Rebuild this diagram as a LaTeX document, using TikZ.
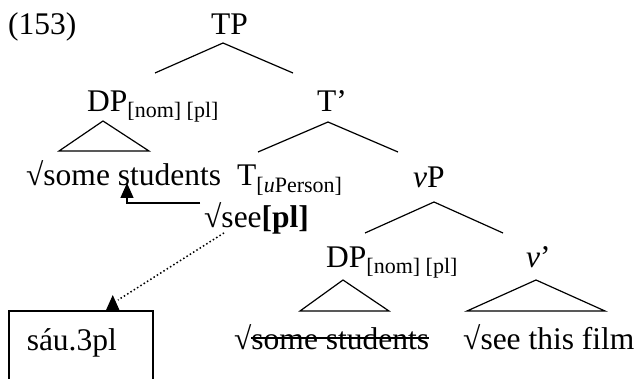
\documentclass[tikz,border=0pt]{standalone}
\usepackage{fontspec}
\setmainfont{Liberation Serif}
\usetikzlibrary{arrows.meta}
\newcommand{\treefont}{\fontsize{31.5pt}{38pt}\selectfont}
\newcommand{\feat}[1]{\raisebox{-6pt}{\fontsize{22pt}{26pt}\selectfont #1}}
\newsavebox{\strkbox}
\newcommand{\strk}[1]{\sbox{\strkbox}{#1}\rlap{\rule[0.32em]{\wd\strkbox}{0.05em}}\usebox{\strkbox}}
\tikzset{
    lbl/.style={anchor=base west,inner sep=0pt,font=\treefont},
    branch/.style={line width=1.2pt},
    agree/.style={-{Triangle[length=15pt,width=13pt]},line width=1.4pt},
    spell/.style={line width=1.5pt,dash pattern=on 1.5pt off 2.4pt},
    vocab/.style={draw,line width=1.5pt,anchor=north west,align=left,
        font=\treefont,inner ysep=0pt}
}
\begin{document}
\begin{tikzpicture}[x=1pt,y=-1pt]
\useasboundingbox (0,0) rectangle (639,379);
\clip (0,0) rectangle (639,379);

% tree labels
\node[lbl] (ex) at (8,35) {(153)};
\node[lbl] (TP) at (211,35) {TP};
\node[lbl] (DPa) at (87,112) {DP\feat{[nom] [pl]}};
\node[lbl] (Tbar) at (317,112) {T’};
\node[lbl] (roota) at (26,186) {√some students};
\node[lbl] (T) at (237,186) {T\feat{[\textit{u}Person]}};
\node[lbl] (see) at (204,228) {√see\textbf{[pl]}};
\node[lbl] (vP) at (413,188) {\textit{v}P};
\node[lbl] (DPb) at (326,267) {DP\feat{[nom] [pl]}};
\node[lbl] (vbar) at (526,267) {\textit{v}’};
\node[lbl] (rootb) at (234,349) {√\strk{some students}};
\node[lbl] (rootc) at (463,349) {√see this film};

% branches
\coordinate (tp-top) at (223,43);
\coordinate (tp-l) at (155,73);
\coordinate (tp-r) at (293,73);
\coordinate (tb-top) at (328,122);
\coordinate (tb-l) at (258,152);
\coordinate (tb-r) at (398,152);
\coordinate (vp-top) at (434,202);
\coordinate (vp-l) at (365,233);
\coordinate (vp-r) at (503,233);
\draw[branch] (tp-l) -- (tp-top) -- (tp-r);
\draw[branch] (tb-l) -- (tb-top) -- (tb-r);
\draw[branch] (vp-l) -- (vp-top) -- (vp-r);

% triangles
\coordinate (dpa-top) at (103,121);
\coordinate (dpa-l) at (59,151);
\coordinate (dpa-r) at (149,151);
\coordinate (dpb-top) at (343,280);
\coordinate (dpb-l) at (300,311);
\coordinate (dpb-r) at (389,311);
\coordinate (vb-top) at (536,280);
\coordinate (vb-l) at (467,311);
\coordinate (vb-r) at (605,311);
\draw[branch] (dpa-l) -- (dpa-top) -- (dpa-r) -- cycle;
\draw[branch] (dpb-l) -- (dpb-top) -- (dpb-r) -- cycle;
\draw[branch] (vb-l) -- (vb-top) -- (vb-r) -- cycle;

% agreement and spell-out
\node[vocab,text width=108pt,inner xsep=18pt,text height=40pt,text depth=70pt]
    (box) at (8,310) {sáu.3pl};
\coordinate (agr) at (127,183);
\coordinate (sp-end) at (118,300);
\draw[agree] ([xshift=-4pt]see.north west) -| (agr);
\draw[spell] ([xshift=20pt,yshift=2pt]see.south west) -- (sp-end);
\draw[agree] ([xshift=32pt]box.north) -- ++(0,-15);

\end{tikzpicture}
\end{document}
